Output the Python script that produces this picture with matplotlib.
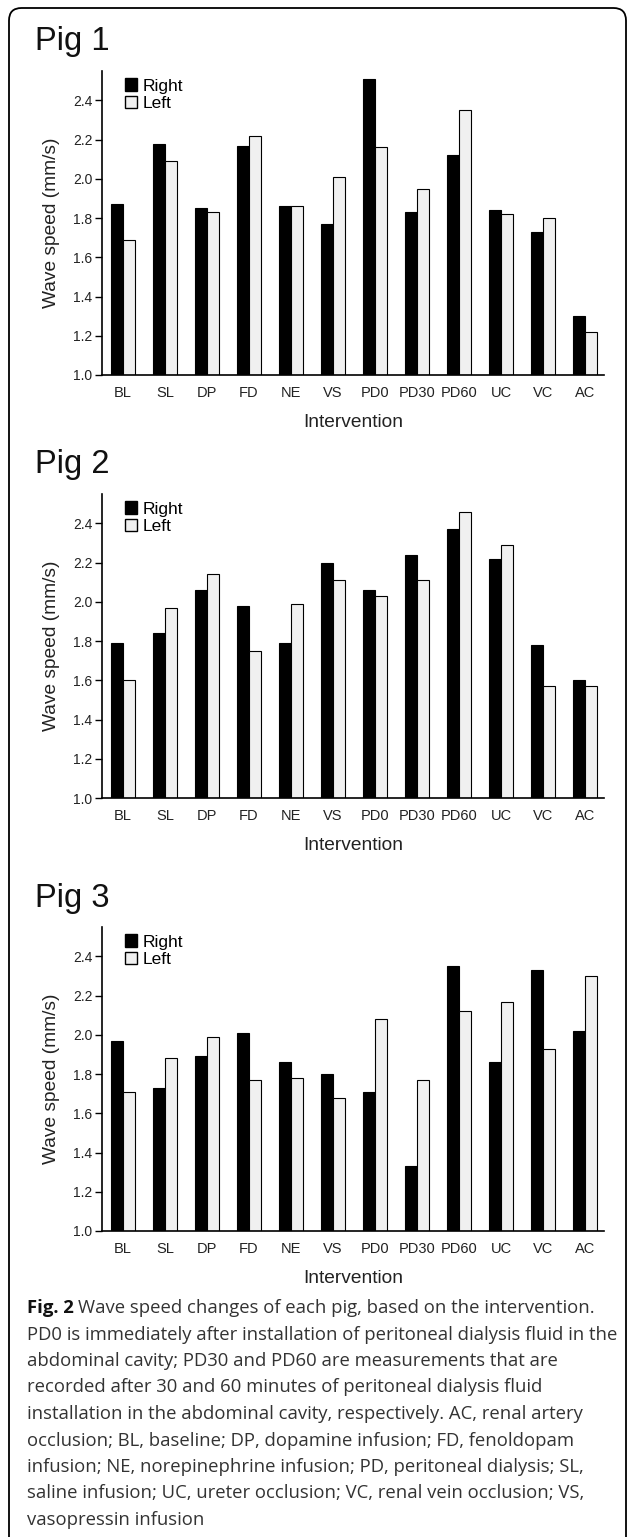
import matplotlib.pyplot as plt
import numpy as np
from matplotlib.patches import FancyBboxPatch, Patch

# data
interventions = ['BL', 'SL', 'DP', 'FD', 'NE', 'VS', 'PD0', 'PD30', 'PD60', 'UC', 'VC', 'AC']
pig1_right = [1.87, 2.18, 1.85, 2.17, 1.86, 1.77, 2.51, 1.83, 2.12, 1.84, 1.73, 1.30]
pig1_left = [1.69, 2.09, 1.83, 2.22, 1.86, 2.01, 2.16, 1.95, 2.35, 1.82, 1.80, 1.22]
pig2_right = [1.79, 1.84, 2.06, 1.98, 1.79, 2.20, 2.06, 2.24, 2.37, 2.22, 1.78, 1.60]
pig2_left = [1.60, 1.97, 2.14, 1.75, 1.99, 2.11, 2.03, 2.11, 2.46, 2.29, 1.57, 1.57]
pig3_right = [1.97, 1.73, 1.89, 2.01, 1.86, 1.80, 1.71, 1.33, 2.35, 1.86, 2.33, 2.02]
pig3_left = [1.71, 1.88, 1.99, 1.77, 1.78, 1.68, 2.08, 1.77, 2.12, 2.17, 1.93, 2.30]
yticks = [1.0, 1.2, 1.4, 1.6, 1.8, 2.0, 2.2, 2.4]

caption_lines = [
    'PD0 is immediately after installation of peritoneal dialysis fluid in the',
    'abdominal cavity; PD30 and PD60 are measurements that are',
    'recorded after 30 and 60 minutes of peritoneal dialysis fluid',
    'installation in the abdominal cavity, respectively. AC, renal artery',
    'occlusion; BL, baseline; DP, dopamine infusion; FD, fenoldopam',
    'infusion; NE, norepinephrine infusion; PD, peritoneal dialysis; SL,',
    'saline infusion; UC, ureter occlusion; VC, renal vein occlusion; VS,',
    'vasopressin infusion',
]

W, H = 627, 1537
plt.rcParams['font.family'] = ['Liberation Sans', 'DejaVu Sans']
fig = plt.figure(figsize=(W / 100, H / 100), dpi=100)

# rounded frame round the whole figure
frame = FancyBboxPatch((9 / W, -0.05), (617) / W, 1 - 8 / H + 0.05,
                       boxstyle='round,pad=0,rounding_size=0.02',
                       transform=fig.transFigure, fill=False, ec='black', lw=1.3,
                       mutation_aspect=W / H)
fig.patches.append(frame)

panels = [('Pig 1', pig1_right, pig1_left, 71, 50),
          ('Pig 2', pig2_right, pig2_left, 494, 473),
          ('Pig 3', pig3_right, pig3_left, 927, 907)]

x = np.arange(len(interventions))
w = 0.29
for title, right, left, top_px, title_px in panels:
    ax = fig.add_axes([102 / W, 1 - (top_px + 304) / H, 502 / W, 304 / H])
    ax.bar(x - w / 2, np.array(right) - 1.0, w, bottom=1.0, color='black', edgecolor='black', lw=0.8)
    ax.bar(x + w / 2, np.array(left) - 1.0, w, bottom=1.0, color='#f0f0f0', edgecolor='black', lw=0.8)
    ax.set_ylim(1.0, 2.55)
    ax.set_xlim(-0.5, 11.45)
    ax.set_yticks(yticks)
    ax.set_yticklabels(['%.1f' % t for t in yticks], fontsize=10, color='#222222')
    ax.set_xticks(x)
    ax.set_xticklabels(interventions, fontsize=10.5, color='#222222')
    ax.tick_params(axis='x', length=0, pad=8)
    ax.tick_params(axis='y', length=5, width=1, pad=2)
    for s in ['top', 'right']:
        ax.spines[s].set_visible(False)
    for s in ['left', 'bottom']:
        ax.spines[s].set_linewidth(1.2)
    ax.set_ylabel('Wave speed (mm/s)', fontsize=13.8, labelpad=9, color='#222222')
    ax.set_xlabel('Intervention', fontsize=13.8, labelpad=10, color='#222222')
    handles = [Patch(facecolor='black', edgecolor='black', label='Right'),
               Patch(facecolor='#f0f0f0', edgecolor='black', label='Left')]
    ax.legend(handles=handles, loc='upper left', bbox_to_anchor=(0.025, 1.01), frameon=False,
              fontsize=12.5, handlelength=0.7, handleheight=0.7, handletextpad=0.3,
              labelspacing=0.12, borderaxespad=0.2)
    fig.text(35 / W, 1 - title_px / H, title, fontsize=23.5, ha='left', va='baseline', color='#111111')

# caption
cap_font = ['Open Sans', 'DejaVu Sans']
y0 = 1308
t = fig.text(27 / W, 1 - y0 / H, 'Fig. 2', fontsize=13.3, fontweight='bold', family=cap_font,
             va='center', ha='left', color='#111111')
fig.canvas.draw()
bb = t.get_window_extent()
fig.text((bb.x1 + 4) / W, 1 - y0 / H, 'Wave speed changes of each pig, based on the intervention.',
         fontsize=13.3, family=cap_font, va='center', ha='left', color='#333333')
for i, line in enumerate(caption_lines):
    fig.text(27 / W, 1 - (y0 + 26.5 * (i + 1)) / H, line, fontsize=13.3, family=cap_font,
             va='center', ha='left', color='#333333')

fig.savefig('out.png', dpi=100)
